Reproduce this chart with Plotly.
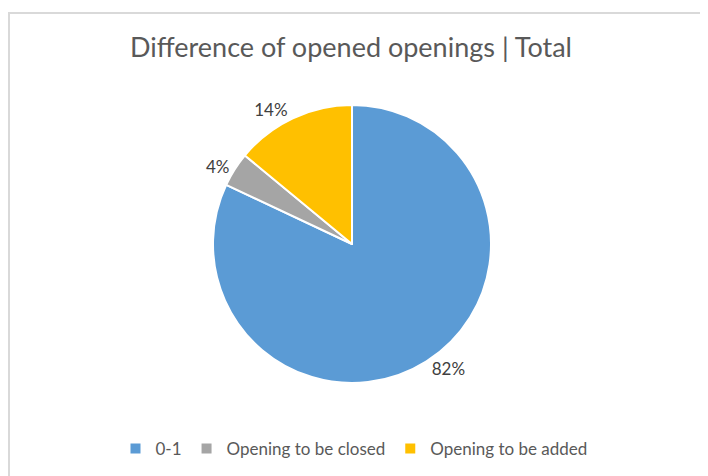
import plotly.graph_objects as go

labels = ["0-1", "Opening to be closed", "Opening to be added"]
values = [82, 4, 14]
colors = ["#5B9BD5", "#A5A5A5", "#FFC000"]

W, H = 708, 476

fig = go.Figure(
    go.Pie(
        labels=labels,
        values=values,
        sort=False,
        direction="clockwise",
        rotation=0,
        marker=dict(colors=colors, line=dict(color="white", width=2)),
        textinfo="percent",
        texttemplate="%{percent:.0%}",
        textposition="outside",
        outsidetextfont=dict(size=17, color="#404040", family="Lato"),
        domain=dict(x=[205 / W, 483 / W], y=[1 - 375 / H, 1 - 97 / H]),
        showlegend=True,
    )
)

fig.update_layout(
    width=W,
    height=H,
    margin=dict(l=0, r=0, t=0, b=0),
    paper_bgcolor="white",
    font=dict(family="Lato", color="#595959"),
    title=dict(
        text="Difference of opened openings | Total",
        x=343 / W,
        xanchor="center",
        y=1 - 40 / H,
        yanchor="middle",
        font=dict(size=27, color="#595959", family="Lato"),
    ),
    legend=dict(
        orientation="h",
        x=346 / W,
        xanchor="center",
        y=1 - 441 / H,
        yanchor="middle",
        font=dict(size=17, color="#595959"),
        itemwidth=30,
        traceorder="normal",
    ),
    shapes=[
        dict(type="line", xref="paper", yref="paper", x0=1 / W, x1=1 / W, y0=0, y1=1 - 4 / H,
             line=dict(color="#D9D9D9", width=2)),
        dict(type="line", xref="paper", yref="paper", x0=0, x1=702 / W, y0=1 - 5 / H, y1=1 - 5 / H,
             line=dict(color="#D9D9D9", width=2)),
        dict(type="line", xref="paper", yref="paper", x0=701 / W, x1=701 / W, y0=0, y1=1 - 4 / H,
             line=dict(color="#D9D9D9", width=2)),
    ],
)

fig.write_html("out.html")
